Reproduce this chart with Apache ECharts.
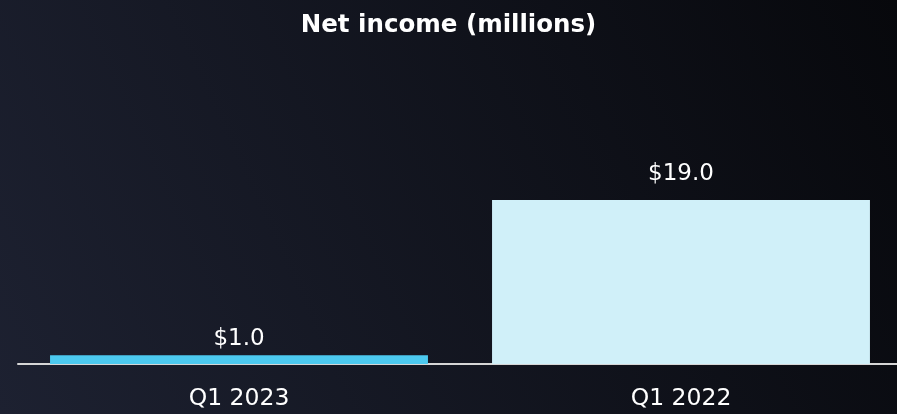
<!DOCTYPE html>
<html>
<head>
<meta charset="utf-8">
<script src="https://cdn.jsdelivr.net/npm/echarts@6/dist/echarts.min.js"></script>
<style>
html,body{margin:0;padding:0;}
#chart{width:897px;height:414px;}
</style>
</head>
<body>
<div id="chart"></div>
<script>
const categories = ['Q1 2023', 'Q1 2022'];
const netIncome = [1.0, 19.0];
const barColors = ['#4cc9ef', '#d0f0f9'];
const titleText = 'Net income (millions)';

const chart = echarts.init(document.getElementById('chart'));
const fontFamily = '"DejaVu Sans", sans-serif';
const labelDistances = [5, 14];
chart.setOption({
  backgroundColor: new echarts.graphic.LinearGradient(0, 1, 1, 0, [
    {offset: 0, color: '#1d2131'},
    {offset: 1, color: '#07080c'}
  ]),
  animation: false,
  title: {
    text: titleText,
    left: 'center',
    top: 8,
    textStyle: {color: '#ffffff', fontSize: 24.5, fontWeight: 'bold', fontFamily: fontFamily}
  },
  grid: {left: 18, width: 884, top: 200, bottom: 50, containLabel: false, outerBoundsMode: 'none'},
  xAxis: {
    type: 'category',
    data: categories,
    axisLine: {lineStyle: {color: '#d6d6d6', width: 2}},
    axisTick: {show: false},
    axisLabel: {color: '#ffffff', fontSize: 23.5, fontFamily: fontFamily, margin: 23}
  },
  yAxis: {
    type: 'value',
    min: 0,
    max: 19,
    show: false,
    splitLine: {show: false}
  },
  series: [{
    type: 'bar',
    barWidth: '85.5%',
    data: netIncome.map((v, i) => ({
      value: v,
      itemStyle: {color: barColors[i]},
      label: {distance: labelDistances[i]}
    })),
    label: {
      show: true,
      position: 'top',
      distance: 14,
      color: '#ffffff',
      fontSize: 23,
      fontFamily: fontFamily,
      formatter: p => '$' + p.value.toFixed(1)
    }
  }]
});
</script>
</body>
</html>
